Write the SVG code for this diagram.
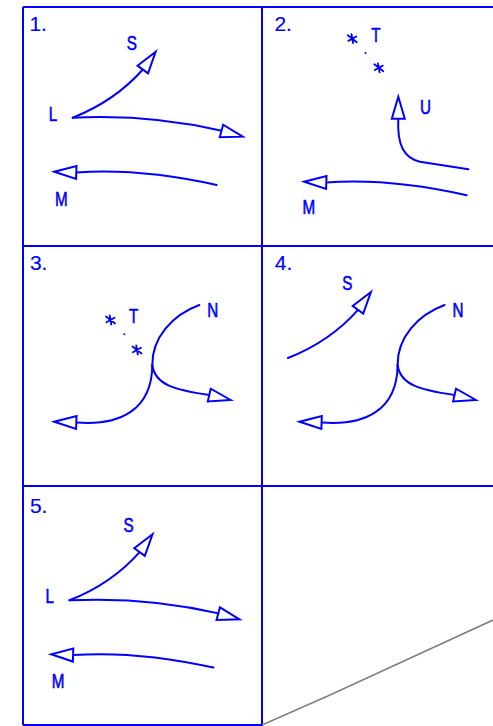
<svg xmlns="http://www.w3.org/2000/svg" xmlns:xlink="http://www.w3.org/1999/xlink" width="493" height="726" viewBox="0 0 493 726">
<style>
.grid{stroke:#0000ff;stroke-width:2;fill:none}
.ln{stroke:#0000ff;stroke-width:2;fill:none;stroke-linecap:round}
.ah{fill:#ffffff;stroke:#0000ff;stroke-width:2;stroke-linejoin:miter}
.st{stroke:#0000ff;stroke-width:1.8;fill:none;stroke-linecap:round}
.lbl{font-family:"Liberation Sans",Arial,sans-serif;font-size:19.5px;fill:#0000ff;stroke:#0000ff;stroke-width:0.6;text-anchor:middle}
.num{font-family:"Liberation Sans",Arial,sans-serif;font-size:21px;fill:#0000ff;stroke:#0000ff;stroke-width:0.15}
</style>
<defs>
<polygon id="ah" class="ah" points="0,0 -22,-6.5 -22,6.5"/>
<g id="star" class="st"><path d="M-4.5,-3.5 L4.5,3.5 M-0.8,-4.5 L0.8,4.5 M-4,2.2 L4,-2.2"/></g>
<g id="figLMS">
<path class="ln" d="M72.7,117.7 Q115,101 142.8,69.5"/>
<use xlink:href="#ah" transform="translate(155.7,51.7) rotate(-54)"/>
<path class="ln" d="M72.7,117.7 Q150,114 221.7,130.8"/>
<use xlink:href="#ah" transform="translate(242.7,136.7) rotate(15)"/>
<path class="ln" d="M216.7,185 Q140,168 76.3,172.5"/>
<use xlink:href="#ah" transform="translate(54.3,171.7) rotate(182)"/>
<text class="lbl" transform="translate(131.7,49.5) scale(0.78,1)">S</text>
<text class="lbl" transform="translate(53,120.5) scale(0.78,1)">L</text>
<text class="lbl" transform="translate(61.3,205.5) scale(0.78,1)">M</text>
</g>
<g id="figN">
<path class="ln" d="M199.3,305 C172,315 152,338 152.3,365"/>
<path class="ln" d="M152.3,365 C152,410 120,426 76.3,422.5"/>
<use xlink:href="#ah" transform="translate(54.3,421.7) rotate(182)"/>
<path class="ln" d="M152.3,365 C155,385 175,390 209.2,395"/>
<use xlink:href="#ah" transform="translate(230.7,400) rotate(13)"/>
<text class="lbl" transform="translate(212.8,316.5) scale(0.78,1)">N</text>
</g>
</defs>

<g id="grid">
<path class="grid" d="M23,7 H493 M23,246 H493 M23,486 H493 M23,725 H262 M23,7 V725 M262,7 V726"/>
<path d="M262,725 L330,695 L493,620" stroke="#808080" stroke-width="1.6" fill="none"/>
</g>

<g id="panel1">
<text class="num" x="29.4" y="30.5">1.</text>
<use xlink:href="#figLMS"/>
</g>

<g id="panel2">
<text class="num" x="274.4" y="31">2.</text>
<use xlink:href="#star" transform="translate(352.3,38.7)"/>
<use xlink:href="#star" transform="translate(378.8,67.8)"/>
<circle cx="365.5" cy="53" r="1" fill="#0000ff"/>
<text class="lbl" transform="translate(376,42) scale(0.78,1)">T</text>
<path class="ln" d="M398.3,118.7 C397,145 404,158 420,161.7 L468.3,169.3"/>
<use xlink:href="#ah" transform="translate(398.3,96.7) rotate(-90)"/>
<text class="lbl" transform="translate(425.5,114.3) scale(0.78,1)">U</text>
<path class="ln" d="M466.7,195.3 Q390,178 326.3,182.5"/>
<use xlink:href="#ah" transform="translate(304.3,181.7) rotate(182)"/>
<text class="lbl" transform="translate(308.8,213.5) scale(0.78,1)">M</text>
</g>

<g id="panel3">
<text class="num" x="29.9" y="270">3.</text>
<use xlink:href="#star" transform="translate(110.5,320)"/>
<use xlink:href="#star" transform="translate(137,350)"/>
<circle cx="124.3" cy="334.3" r="1" fill="#0000ff"/>
<text class="lbl" transform="translate(133.7,323) scale(0.78,1)">T</text>
<use xlink:href="#figN"/>
</g>

<g id="panel4">
<text class="num" x="274.8" y="270">4.</text>
<path class="ln" d="M287.9,358 Q330.2,341.3 358,309.8"/>
<use xlink:href="#ah" transform="translate(370.9,292) rotate(-54)"/>
<text class="lbl" transform="translate(347.2,290) scale(0.78,1)">S</text>
<use xlink:href="#figN" transform="translate(245.3,0)"/>
</g>

<g id="panel5">
<text class="num" x="29.9" y="513">5.</text>
<use xlink:href="#figLMS" transform="translate(-3.2,482.6)"/>
</g>
</svg>
